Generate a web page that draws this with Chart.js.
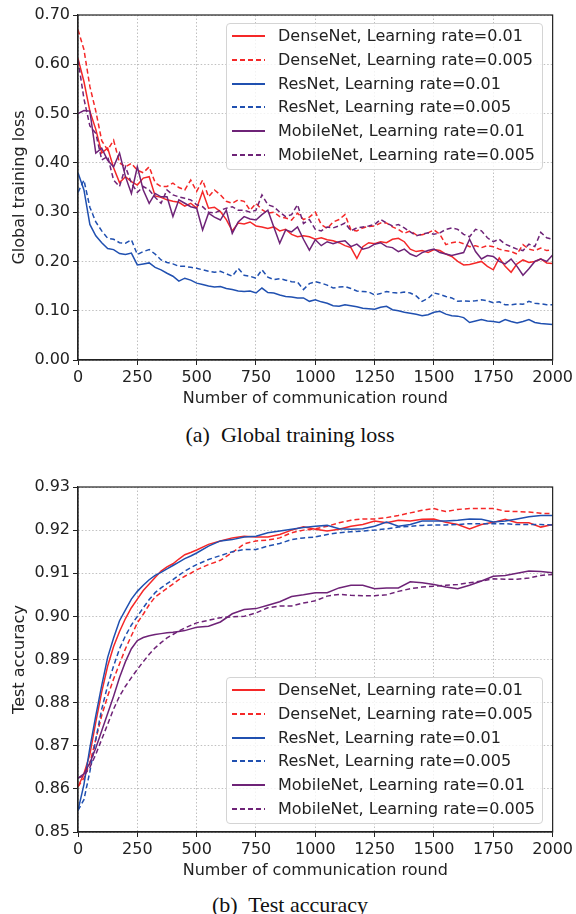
<!DOCTYPE html>
<html lang="en">
<head>
  <meta charset="UTF-8" />
  <title>Global training loss and test accuracy</title>
  <script src="https://cdn.jsdelivr.net/npm/chart.js"></script>
  <style>
    body { margin: 0; background: #fff; }
    #page { position: relative; width: 576px; height: 914px; overflow: hidden; }
    canvas { position: absolute; left: 0; }
    .caption {
      position: absolute; left: 0; width: 576px; padding-left: 4px; box-sizing: border-box;
      text-align: center; font-family: "Liberation Serif", "DejaVu Serif", serif;
      font-size: 22px; line-height: 24px; color: #111;
    }
    .legend {
      position: absolute; left: 226px; width: 317px; height: 147px; box-sizing: border-box;
      border: 1px solid #d4d4d4; border-radius: 4px; background: rgba(255, 255, 255, 0.8);
      font-family: "DejaVu Sans", sans-serif; font-size: 16px; color: #222;
    }
    .legend .row { position: relative; height: 23.8px; line-height: 23.8px; padding-left: 51px; white-space: nowrap; }
    .legend .swatch { position: absolute; left: 5px; top: 11px; width: 33px; height: 2px; }
  </style>
</head>

<body>
  <div id="page">
    <canvas id="lossChart" width="576" height="412" style="top: 0px;"></canvas>
    <div id="lossLegend" class="legend" style="top: 23px;"></div>
    <div class="caption" style="top: 423px;">(a)&nbsp; Global training loss</div>

    <canvas id="accChart" width="576" height="412" style="top: 472px;"></canvas>
    <div id="accLegend" class="legend" style="top: 677px;"></div>
    <div class="caption" style="top: 893px;">(b)&nbsp; Test accuracy</div>
  </div>

  <script>
    // series names / styles (same order in both plots)
    const seriesLabels = [
      'DenseNet, Learning rate=0.01',
      'DenseNet, Learning rate=0.005',
      'ResNet, Learning rate=0.01',
      'ResNet, Learning rate=0.005',
      'MobileNet, Learning rate=0.01',
      'MobileNet, Learning rate=0.005'
    ];
    const seriesColors = ['#f52828', '#f52828', '#2050b0', '#2050b0', '#6e2377', '#6e2377'];
    const seriesDashed = [false, true, false, true, false, true];

    // x axis
    const roundTicks = [0, 250, 500, 750, 1000, 1250, 1500, 1750, 2000];
    const lossTicks = [0.0, 0.1, 0.2, 0.3, 0.4, 0.5, 0.6, 0.7];
    const accTicks = [0.85, 0.86, 0.87, 0.88, 0.89, 0.90, 0.91, 0.92, 0.93];

    // (a) global training loss, one value every 25 rounds
    const lossRounds = Array.from({ length: 81 }, (_, i) => i * 25);

    const lossDense01 = [
      0.612, 0.565, 0.505, 0.468, 0.420, 0.430, 0.390, 0.360, 0.372, 0.362,
      0.355, 0.369, 0.372, 0.333, 0.330, 0.325, 0.322, 0.320, 0.312, 0.318,
      0.308, 0.342, 0.308, 0.310, 0.301, 0.285, 0.262, 0.278, 0.276, 0.280,
      0.272, 0.270, 0.267, 0.270, 0.262, 0.265, 0.255, 0.250, 0.252, 0.250,
      0.245, 0.248, 0.244, 0.242, 0.238, 0.232, 0.228, 0.206, 0.230, 0.238,
      0.236, 0.240, 0.238, 0.245, 0.247, 0.240, 0.225, 0.220, 0.222, 0.218,
      0.224, 0.222, 0.215, 0.210, 0.200, 0.193, 0.194, 0.197, 0.200, 0.190,
      0.183, 0.207, 0.190, 0.178, 0.195, 0.203, 0.198, 0.200, 0.205, 0.197,
      0.196
    ];
    const lossDense005 = [
      0.670, 0.630, 0.555, 0.505, 0.445, 0.426, 0.446, 0.400, 0.392, 0.399,
      0.385, 0.380, 0.392, 0.360, 0.352, 0.352, 0.359, 0.350, 0.345, 0.365,
      0.342, 0.365, 0.331, 0.345, 0.335, 0.322, 0.318, 0.325, 0.322, 0.304,
      0.318, 0.305, 0.298, 0.300, 0.291, 0.288, 0.284, 0.298, 0.285, 0.290,
      0.300, 0.275, 0.267, 0.280, 0.285, 0.295, 0.264, 0.262, 0.268, 0.271,
      0.272, 0.278, 0.278, 0.270, 0.265, 0.257, 0.262, 0.254, 0.254, 0.258,
      0.264, 0.255, 0.234, 0.238, 0.240, 0.236, 0.230, 0.232, 0.228, 0.232,
      0.230, 0.225, 0.222, 0.220, 0.215, 0.234, 0.225, 0.222, 0.227, 0.222,
      0.224
    ];
    const lossRes01 = [
      0.380, 0.345, 0.275, 0.252, 0.238, 0.226, 0.224, 0.216, 0.214, 0.217,
      0.193, 0.195, 0.197, 0.188, 0.183, 0.176, 0.170, 0.160, 0.166, 0.162,
      0.156, 0.153, 0.150, 0.148, 0.149, 0.145, 0.143, 0.140, 0.139, 0.140,
      0.136, 0.146, 0.137, 0.136, 0.132, 0.129, 0.128, 0.126, 0.126, 0.119,
      0.122, 0.118, 0.115, 0.110, 0.109, 0.112, 0.110, 0.108, 0.105, 0.104,
      0.103, 0.107, 0.109, 0.102, 0.100, 0.097, 0.095, 0.093, 0.090, 0.092,
      0.097, 0.099, 0.093, 0.090, 0.089, 0.086, 0.076, 0.079, 0.082, 0.079,
      0.078, 0.076, 0.082, 0.078, 0.075, 0.078, 0.082, 0.076, 0.074, 0.073,
      0.072
    ];
    const lossRes005 = [
      0.340, 0.365, 0.310, 0.280, 0.262, 0.247, 0.245, 0.238, 0.237, 0.244,
      0.214, 0.220, 0.224, 0.215, 0.203, 0.198, 0.195, 0.190, 0.190, 0.188,
      0.186, 0.183, 0.180, 0.178, 0.180, 0.175, 0.170, 0.186, 0.172, 0.170,
      0.166, 0.183, 0.168, 0.163, 0.165, 0.162, 0.159, 0.158, 0.143, 0.155,
      0.159, 0.156, 0.152, 0.146, 0.148, 0.149, 0.145, 0.140, 0.139, 0.138,
      0.132, 0.135, 0.139, 0.137, 0.136, 0.138, 0.136, 0.130, 0.119, 0.125,
      0.136, 0.133, 0.129, 0.126, 0.119, 0.120, 0.119, 0.120, 0.122, 0.120,
      0.116, 0.118, 0.112, 0.112, 0.114, 0.113, 0.119, 0.115, 0.114, 0.112,
      0.112
    ];
    const lossMobile01 = [
      0.500, 0.506, 0.505, 0.420, 0.430, 0.405, 0.392, 0.420, 0.372, 0.338,
      0.392, 0.345, 0.318, 0.338, 0.331, 0.331, 0.291, 0.325, 0.318, 0.311,
      0.308, 0.264, 0.298, 0.290, 0.284, 0.304, 0.257, 0.280, 0.291, 0.286,
      0.284, 0.295, 0.304, 0.270, 0.237, 0.264, 0.260, 0.270, 0.245, 0.223,
      0.244, 0.232, 0.240, 0.236, 0.240, 0.242, 0.230, 0.235, 0.225, 0.228,
      0.235, 0.238, 0.230, 0.228, 0.220, 0.225, 0.215, 0.210, 0.218, 0.222,
      0.225, 0.218, 0.215, 0.212, 0.215, 0.218, 0.245, 0.220, 0.205, 0.212,
      0.210, 0.200, 0.195, 0.205, 0.190, 0.172, 0.185, 0.200, 0.205, 0.200,
      0.213
    ];
    const lossMobile005 = [
      0.609, 0.530, 0.475, 0.460, 0.406, 0.413, 0.365, 0.352, 0.392, 0.359,
      0.340, 0.352, 0.345, 0.330, 0.318, 0.345, 0.335, 0.331, 0.328, 0.325,
      0.315, 0.311, 0.300, 0.298, 0.304, 0.308, 0.311, 0.304, 0.304, 0.300,
      0.304, 0.335, 0.315, 0.311, 0.300, 0.291, 0.295, 0.315, 0.277, 0.285,
      0.265, 0.262, 0.270, 0.268, 0.272, 0.278, 0.262, 0.268, 0.270, 0.272,
      0.275, 0.285, 0.278, 0.272, 0.275, 0.268, 0.260, 0.252, 0.255, 0.258,
      0.255, 0.258, 0.265, 0.268, 0.265, 0.255, 0.250, 0.265, 0.262, 0.248,
      0.240, 0.245, 0.235, 0.230, 0.225, 0.222, 0.235, 0.230, 0.259, 0.248,
      0.245
    ];

    // (b) test accuracy
    const accRounds = [
      0, 25, 50, 75, 100, 125, 150, 175, 200, 225, 250, 275, 300, 325, 350, 375, 400, 425, 450, 475, 500,
      550, 600, 650, 700, 750, 800, 850, 900, 950, 1000,
      1050, 1100, 1150, 1200, 1250, 1300, 1350, 1400, 1450, 1500,
      1550, 1600, 1650, 1700, 1750, 1800, 1850, 1900, 1950, 2000
    ];

    const accDense01 = [
      0.8605, 0.8635, 0.8680, 0.8755, 0.8825, 0.8885, 0.8930, 0.8965, 0.8995, 0.9020, 0.9040,
      0.9060, 0.9075, 0.9090, 0.9105, 0.9115, 0.9122, 0.9133, 0.9143, 0.9148, 0.9154,
      0.9167, 0.9175, 0.9182, 0.9186, 0.9184, 0.9184, 0.9190, 0.9200, 0.9208, 0.9202,
      0.9198, 0.9202, 0.9209, 0.9213, 0.9221, 0.9217, 0.9223, 0.9221, 0.9225, 0.9226,
      0.9218, 0.9213, 0.9203, 0.9213, 0.9218, 0.9225, 0.9217, 0.9217, 0.9207, 0.9213
    ];
    const accDense005 = [
      0.8605, 0.8625, 0.8660, 0.8715, 0.8770, 0.8815, 0.8855, 0.8890, 0.8925, 0.8955, 0.8985,
      0.9005, 0.9027, 0.9045, 0.9055, 0.9065, 0.9075, 0.9085, 0.9093, 0.9100, 0.9108,
      0.9120, 0.9130, 0.9148, 0.9168, 0.9175, 0.9177, 0.9182, 0.9194, 0.9200, 0.9203,
      0.9209, 0.9217, 0.9223, 0.9226, 0.9226, 0.9229, 0.9234, 0.9240, 0.9246, 0.9250,
      0.9243, 0.9248, 0.9250, 0.9250, 0.9250, 0.9244, 0.9243, 0.9242, 0.9239, 0.9238
    ];
    const accRes01 = [
      0.8550, 0.8610, 0.8695, 0.8770, 0.8840, 0.8905, 0.8950, 0.8990, 0.9015, 0.9040, 0.9058,
      0.9072, 0.9085, 0.9095, 0.9102, 0.9110, 0.9118, 0.9126, 0.9134, 0.9140, 0.9147,
      0.9163, 0.9175, 0.9178, 0.9184, 0.9186, 0.9194, 0.9198, 0.9202, 0.9206, 0.9209,
      0.9211, 0.9203, 0.9202, 0.9203, 0.9209, 0.9219, 0.9209, 0.9213, 0.9221, 0.9221,
      0.9221, 0.9223, 0.9226, 0.9225, 0.9219, 0.9221, 0.9226, 0.9231, 0.9234, 0.9234
    ];
    const accRes005 = [
      0.8550, 0.8575, 0.8640, 0.8715, 0.8785, 0.8840, 0.8885, 0.8925, 0.8955, 0.8980, 0.9000,
      0.9020, 0.9039, 0.9055, 0.9066, 0.9076, 0.9085, 0.9095, 0.9105, 0.9113, 0.9120,
      0.9132, 0.9141, 0.9150, 0.9155, 0.9155, 0.9163, 0.9169, 0.9178, 0.9182, 0.9184,
      0.9190, 0.9194, 0.9196, 0.9198, 0.9200, 0.9203, 0.9207, 0.9209, 0.9211, 0.9212,
      0.9212, 0.9213, 0.9215, 0.9215, 0.9215, 0.9215, 0.9213, 0.9213, 0.9213, 0.9212
    ];
    const accMobile01 = [
      0.8625, 0.8635, 0.8660, 0.8695, 0.8735, 0.8775, 0.8815, 0.8858, 0.8895, 0.8925, 0.8944,
      0.8951, 0.8955, 0.8958, 0.8960, 0.8962, 0.8963, 0.8965, 0.8967, 0.8971, 0.8975,
      0.8977, 0.8987, 0.9006, 0.9016, 0.9018, 0.9026, 0.9034, 0.9046, 0.9050, 0.9055,
      0.9055, 0.9066, 0.9072, 0.9072, 0.9064, 0.9066, 0.9066, 0.9080, 0.9078, 0.9074,
      0.9068, 0.9064, 0.9072, 0.9082, 0.9093, 0.9095, 0.9100, 0.9105, 0.9104, 0.9101
    ];
    const accMobile005 = [
      0.8625, 0.8630, 0.8650, 0.8680, 0.8715, 0.8750, 0.8785, 0.8815, 0.8838, 0.8858, 0.8877,
      0.8895, 0.8912, 0.8927, 0.8939, 0.8950, 0.8958, 0.8966, 0.8973, 0.8979, 0.8985,
      0.8991, 0.8997, 0.8999, 0.9000, 0.9008, 0.9020, 0.9024, 0.9024, 0.9031, 0.9036,
      0.9047, 0.9051, 0.9049, 0.9048, 0.9048, 0.9050, 0.9058, 0.9064, 0.9068, 0.9070,
      0.9072, 0.9074, 0.9078, 0.9082, 0.9087, 0.9086, 0.9086, 0.9089, 0.9095, 0.9097
    ];

    const axisFont = { family: 'DejaVu Sans', size: 16 };
    const textColor = '#222';

    // box around the plot area (matplotlib spines)
    const framePlugin = {
      id: 'frame',
      afterDatasetsDraw(chart) {
        const { ctx, chartArea: a } = chart;
        ctx.save();
        ctx.strokeStyle = '#222';
        ctx.lineWidth = 1.2;
        ctx.strokeRect(a.left, a.top, a.right - a.left, a.bottom - a.top);
        ctx.restore();
      }
    };

    function axisStyle(ticks, fmt, title) {
      return {
        type: 'linear',
        min: ticks[0],
        max: ticks[ticks.length - 1],
        afterBuildTicks: s => { s.ticks = ticks.map(v => ({ value: v })); },
        ticks: {
          font: axisFont, color: textColor, padding: 3,
          maxRotation: 0, autoSkip: false,
          callback: v => fmt(v)
        },
        grid: { color: '#b0b0b0', lineWidth: 0.8, tickColor: '#222', tickLength: 5, tickWidth: 1 },
        border: { color: '#222', width: 1.2, dash: [1.5, 2] },
        title: { display: true, text: title, font: axisFont, color: textColor, padding: { top: 2, bottom: 4 } }
      };
    }

    function makeChart(canvasId, legendId, rounds, seriesList, yTicks, yTitle) {
      const datasets = seriesList.map((values, i) => ({
        label: seriesLabels[i],
        data: values.map((v, j) => ({ x: rounds[j], y: v })),
        borderColor: seriesColors[i],
        borderWidth: 1.5,
        borderDash: seriesDashed[i] ? [5, 3] : [],
        pointRadius: 0,
        tension: 0,
        fill: false,
        order: seriesList.length - i
      }));

      const xAxis = axisStyle(roundTicks, v => String(v), 'Number of communication round');
      xAxis.afterFit = s => { s.height = 52; };
      const yAxis = axisStyle(yTicks, v => v.toFixed(2), yTitle);
      yAxis.afterFit = s => { s.width = 70; };

      new Chart(document.getElementById(canvasId), {
        type: 'line',
        data: { datasets: datasets },
        options: {
          responsive: false,
          animation: false,
          devicePixelRatio: 1,
          layout: { padding: { top: 15, right: 23, left: 8, bottom: 0 } },
          plugins: { legend: { display: false }, tooltip: { enabled: false } },
          scales: { x: xAxis, y: yAxis }
        },
        plugins: [framePlugin]
      });

      // legend drawn as html on top of the plot
      const box = document.getElementById(legendId);
      seriesLabels.forEach((label, i) => {
        const row = document.createElement('div');
        row.className = 'row';
        const sw = document.createElement('span');
        sw.className = 'swatch';
        sw.style.background = seriesDashed[i]
          ? `repeating-linear-gradient(90deg, ${seriesColors[i]} 0 5px, transparent 5px 8px)`
          : seriesColors[i];
        row.appendChild(sw);
        row.appendChild(document.createTextNode(label));
        box.appendChild(row);
      });
    }

    makeChart('lossChart', 'lossLegend', lossRounds,
      [lossDense01, lossDense005, lossRes01, lossRes005, lossMobile01, lossMobile005],
      lossTicks, 'Global training loss');

    makeChart('accChart', 'accLegend', accRounds,
      [accDense01, accDense005, accRes01, accRes005, accMobile01, accMobile005],
      accTicks, 'Test accuracy');
  </script>
</body>

</html>
